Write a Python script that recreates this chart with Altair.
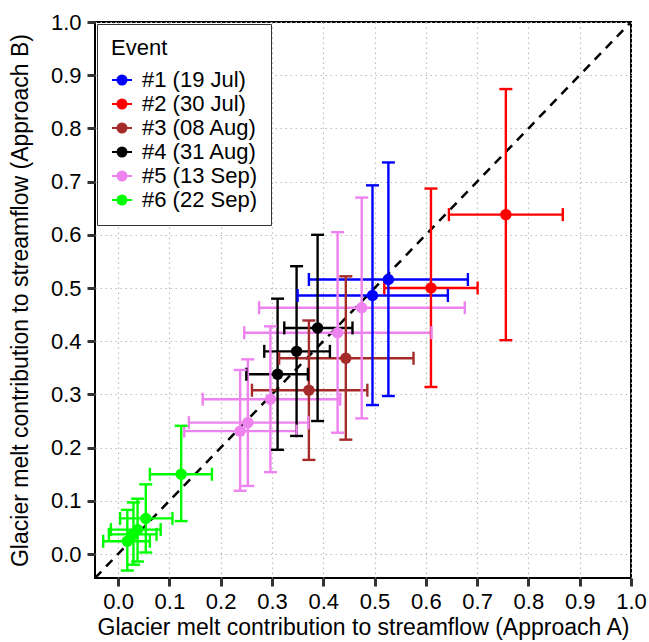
import altair as alt
import pandas as pd

# ---- data ----
events = ["#1 (19 Jul)", "#2 (30 Jul)", "#3 (08 Aug)", "#4 (31 Aug)", "#5 (13 Sep)", "#6 (22 Sep)"]
colors = ["#0000FF", "#FF0000", "#A52A2A", "#000000", "#EE82EE", "#00FF00"]

ev1_x = [0.527, 0.496]; ev1_y = [0.516, 0.486]
ev1_xlo = [0.372, 0.350]; ev1_xhi = [0.682, 0.643]
ev1_ylo = [0.297, 0.280]; ev1_yhi = [0.736, 0.693]

ev2_x = [0.610, 0.756]; ev2_y = [0.500, 0.638]
ev2_xlo = [0.519, 0.645]; ev2_xhi = [0.701, 0.867]
ev2_ylo = [0.314, 0.402]; ev2_yhi = [0.687, 0.874]

ev3_x = [0.444, 0.372]; ev3_y = [0.368, 0.308]
ev3_xlo = [0.314, 0.261]; ev3_xhi = [0.576, 0.486]
ev3_ylo = [0.215, 0.177]; ev3_yhi = [0.522, 0.439]

ev4_x = [0.389, 0.348, 0.311]; ev4_y = [0.425, 0.381, 0.338]
ev4_xlo = [0.324, 0.285, 0.250]; ev4_xhi = [0.457, 0.413, 0.370]
ev4_ylo = [0.250, 0.222, 0.196]; ev4_yhi = [0.600, 0.541, 0.480]

ev5_x = [0.475, 0.428, 0.297, 0.253, 0.238]; ev5_y = [0.463, 0.416, 0.291, 0.247, 0.231]
ev5_xlo = [0.275, 0.246, 0.165, 0.138, 0.129]; ev5_xhi = [0.676, 0.611, 0.433, 0.371, 0.348]
ev5_ylo = [0.255, 0.228, 0.154, 0.128, 0.119]; ev5_yhi = [0.670, 0.605, 0.428, 0.366, 0.346]

ev6_x = [0.123, 0.054, 0.038, 0.030, 0.018]; ev6_y = [0.150, 0.067, 0.046, 0.037, 0.024]
ev6_xlo = [0.062, 0.004, -0.014, -0.018, -0.029]; ev6_xhi = [0.183, 0.106, 0.083, 0.075, 0.062]
ev6_ylo = [0.062, 0.003, -0.014, -0.020, -0.031]; ev6_yhi = [0.241, 0.131, 0.104, 0.097, 0.083]

tick_values = [0.0, 0.1, 0.2, 0.3, 0.4, 0.5, 0.6, 0.7, 0.8, 0.9, 1.0]
axis_min = -0.045
diag = [axis_min, 1.0]

# ---- build table ----
groups = [
    (ev1_x, ev1_y, ev1_xlo, ev1_xhi, ev1_ylo, ev1_yhi),
    (ev2_x, ev2_y, ev2_xlo, ev2_xhi, ev2_ylo, ev2_yhi),
    (ev3_x, ev3_y, ev3_xlo, ev3_xhi, ev3_ylo, ev3_yhi),
    (ev4_x, ev4_y, ev4_xlo, ev4_xhi, ev4_ylo, ev4_yhi),
    (ev5_x, ev5_y, ev5_xlo, ev5_xhi, ev5_ylo, ev5_yhi),
    (ev6_x, ev6_y, ev6_xlo, ev6_xhi, ev6_ylo, ev6_yhi),
]
rows = []
for name, g in zip(events, groups):
    for i in range(len(g[0])):
        rows.append(dict(event=name, x=g[0][i], y=g[1][i], xlo=g[2][i], xhi=g[3][i],
                         ylo=g[4][i], yhi=g[5][i]))
df = pd.DataFrame(rows)
diag_df = pd.DataFrame({"d": diag})

sx = alt.Scale(domain=[axis_min, 1.0], nice=False, zero=False)
sy = alt.Scale(domain=[axis_min, 1.0], nice=False, zero=False)
col_scale = alt.Scale(domain=events, range=colors)

xaxis = alt.Axis(values=tick_values, format=".1f", title="Glacier melt contribution to streamflow (Approach A)",
                 titlePadding=4)
yaxis = alt.Axis(values=tick_values, format=".1f", title="Glacier melt contribution to streamflow (Approach B)",
                 titlePadding=18)

X = lambda f, **k: alt.X(f, type="quantitative", scale=sx, axis=xaxis, **k)
Y = lambda f, **k: alt.Y(f, type="quantitative", scale=sy, axis=yaxis, **k)

line = alt.Chart(diag_df).mark_line(color="black", strokeWidth=2.5, strokeDash=[9, 7], clip=True).encode(
    x=X("d"), y=Y("d"))

base = alt.Chart(df)
colr = alt.Color("event:N", scale=col_scale)
LW = 2.4

hbar = base.mark_rule(strokeWidth=LW).encode(x=X("xlo"), x2="xhi", y=Y("y"), color=colr)
vbar = base.mark_rule(strokeWidth=LW).encode(x=X("x"), y=Y("ylo"), y2="yhi", color=colr)
cap_l = base.mark_tick(orient="vertical", size=13, thickness=LW, opacity=1).encode(x=X("xlo"), y=Y("y"), color=colr)
cap_r = base.mark_tick(orient="vertical", size=13, thickness=LW, opacity=1).encode(x=X("xhi"), y=Y("y"), color=colr)
cap_b = base.mark_tick(orient="horizontal", size=13, thickness=LW, opacity=1).encode(x=X("x"), y=Y("ylo"), color=colr)
cap_t = base.mark_tick(orient="horizontal", size=13, thickness=LW, opacity=1).encode(x=X("x"), y=Y("yhi"), color=colr)

sym = "M-1,0L1,0M0.45,0A0.45,0.45,0,1,1,-0.45,0A0.45,0.45,0,1,1,0.45,0Z"
leg = alt.Legend(title="Event", orient="none", legendX=2, legendY=2, symbolType=sym, symbolSize=400,
                 symbolStrokeWidth=2, padding=14, rowPadding=2, titlePadding=9, labelOffset=9,
                 strokeColor="#333333", fillColor="white", labelFontSize=22, titleFontSize=22,
                 titleFontWeight="normal", labelFont="Liberation Sans", titleFont="Liberation Sans",
                 labelColor="black", titleColor="black", cornerRadius=0, symbolOpacity=1)

pts = base.mark_circle(size=130, opacity=1).encode(
    x=X("x"), y=Y("y"),
    color=alt.Color("event:N", scale=col_scale, legend=leg),
)

chart = alt.layer(line, hbar, vbar, cap_l, cap_r, cap_b, cap_t, pts).properties(
    width=536, height=556,
    autosize=alt.AutoSizeParams(type="none"),
    padding={"left": 95, "top": 22, "right": 18, "bottom": 64},
    background="white",
).configure_view(
    stroke="black", strokeWidth=2
).configure_axis(
    domain=False, grid=True, gridColor="#bdbdbd", gridDash=[1.5, 3.5], gridWidth=1.2,
    tickColor="#333333", tickWidth=3, tickSize=8, labelPadding=5,
    labelFont="Liberation Sans", labelFontSize=22, labelColor="black",
    titleFont="Liberation Sans", titleFontSize=23, titleFontWeight="normal", titleColor="black",
    labelOverlap=False, labelFlush=False
).configure_axisY(labelPadding=6)

chart.save("out.html", embed_options={"renderer": "svg", "actions": False})
